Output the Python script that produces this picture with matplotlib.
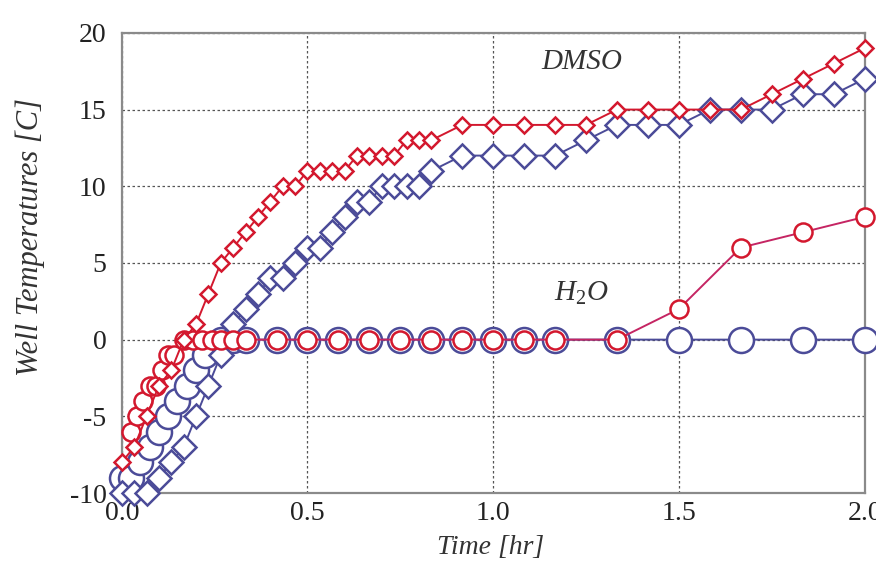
import matplotlib
matplotlib.use("Agg")
import matplotlib.pyplot as plt
import numpy as np

# ---------------- data ----------------
# DMSO sampling times (minutes)
dmso_min = [0, 2, 4, 6, 8, 10, 12, 14, 16, 18, 20, 22, 24, 26, 28, 30, 32, 34, 36, 38,
            40, 42, 44, 46, 48, 50, 55, 60, 65, 70, 75, 80, 85, 90, 95, 100, 105, 110, 115, 120]
dmso_red = [-8, -7, -5, -3, -2, 0, 1, 3, 5, 6, 7, 8, 9, 10, 10, 11, 11, 11, 11, 12,
            12, 12, 12, 13, 13, 13, 14, 14, 14, 14, 14, 15, 15, 15, 15, 15, 16, 17, 18, 19]
dmso_blue = [-10, -10, -10, -9, -8, -7, -5, -3, -1, 1, 2, 3, 4, 4, 5, 6, 6, 7, 8, 9,
             9, 10, 10, 10, 10, 11, 12, 12, 12, 12, 13, 14, 14, 14, 15, 15, 15, 16, 16, 17]

# H2O sampling times (minutes)
h2o_red_min = [1.5, 2.5, 3.5, 4.5, 5.5, 6.5, 7.5, 8.5, 10, 11.5, 13, 14.5, 16, 18, 20,
               25, 30, 35, 40, 45, 50, 55, 60, 65, 70, 80, 90, 100, 110, 120]
h2o_red = [-6, -5, -4, -3, -3, -2, -1, -1, 0, 0, 0, 0, 0, 0, 0,
           0, 0, 0, 0, 0, 0, 0, 0, 0, 0, 0, 2, 6, 7, 8]
h2o_blue_min = [0, 1.5, 3, 4.5, 6, 7.5, 9, 10.5, 12, 13.5, 16, 18, 20,
                25, 30, 35, 40, 45, 50, 55, 60, 65, 70, 80, 90, 100, 110, 120]
h2o_blue = [-9, -9, -8, -7, -6, -5, -4, -3, -2, -1, 0, 0, 0,
            0, 0, 0, 0, 0, 0, 0, 0, 0, 0, 0, 0, 0, 0, 0]

x_ticks = [0.0, 0.5, 1.0, 1.5, 2.0]
x_ticklabels = ["0.0", "0.5", "1.0", "1.5", "2.0"]
y_ticks = [-10, -5, 0, 5, 10, 15, 20]
y_ticklabels = ["-10", "-5", "0", "5", "10", "15", "20"]

RED = "#d3182e"
BLUE = "#4b4b98"
MAGENTA = "#c52563"

plt.rcParams['font.family'] = ['Liberation Serif', 'DejaVu Serif']
plt.rcParams['mathtext.fontset'] = 'custom'
plt.rcParams['mathtext.rm'] = 'Liberation Serif'
plt.rcParams['mathtext.it'] = 'Liberation Serif:italic'

fig = plt.figure(figsize=(8.76, 5.67), dpi=100)
ax = fig.add_axes([0.139, 0.1305, 0.848, 0.8115])

def hr(m):
    return np.asarray(m, dtype=float) / 60.0

# H2O blue (large circles)
ax.plot(hr(h2o_blue_min), h2o_blue, color=BLUE, lw=1.4, marker='o', ms=18,
        mfc='white', mec=BLUE, mew=1.8, clip_on=False, zorder=3)
# DMSO blue (large diamonds)
ax.plot(hr(dmso_min), dmso_blue, color=BLUE, lw=1.4, marker='D', ms=12,
        mfc='white', mec=BLUE, mew=1.8, clip_on=False, zorder=4)
# H2O red (small circles)
ax.plot(hr(h2o_red_min), h2o_red, color=MAGENTA, lw=1.4, marker='o', ms=13,
        mfc='white', mec=RED, mew=1.8, clip_on=False, zorder=5)
# DMSO red (small diamonds)
ax.plot(hr(dmso_min), dmso_red, color=RED, lw=1.4, marker='D', ms=8.5,
        mfc='white', mec=RED, mew=1.8, clip_on=False, zorder=6)

ax.set_xlim(0, 2.0)
ax.set_ylim(-10, 20)
ax.set_xticks(x_ticks)
ax.set_xticklabels(x_ticklabels)
ax.set_yticks(y_ticks)
ax.set_yticklabels(y_ticklabels)
ax.tick_params(length=0, labelsize=20, colors='#222222')
ax.tick_params(axis='y', pad=11)
ax.tick_params(axis='x', pad=6)
ax.grid(True, linestyle=(0, (2, 2)), color='#555555', lw=0.9)
ax.set_axisbelow(True)
for s in ax.spines.values():
    s.set_color('#8a8a8a')
    s.set_linewidth(1.6)

ax.set_xlabel("Time [hr]", fontsize=20, style='italic', color='#333333', va='center')
ax.set_ylabel("Well Temperatures [C]", fontsize=22, style='italic', color='#333333', va='center')
ax.xaxis.set_label_coords(0.497, -0.118)
ax.yaxis.set_label_coords(-0.123, 0.557)

ax.text(1.238, 18.1, "DMSO", fontsize=21, style='italic', color='#333333',
        ha='center', va='center')
ax.text(1.238, 3.0, "$\\mathit{H}_{\\mathit{2}}\\mathit{O}$", fontsize=21, color='#333333',
        ha='center', va='center')

fig.savefig("out.png", dpi=100)
